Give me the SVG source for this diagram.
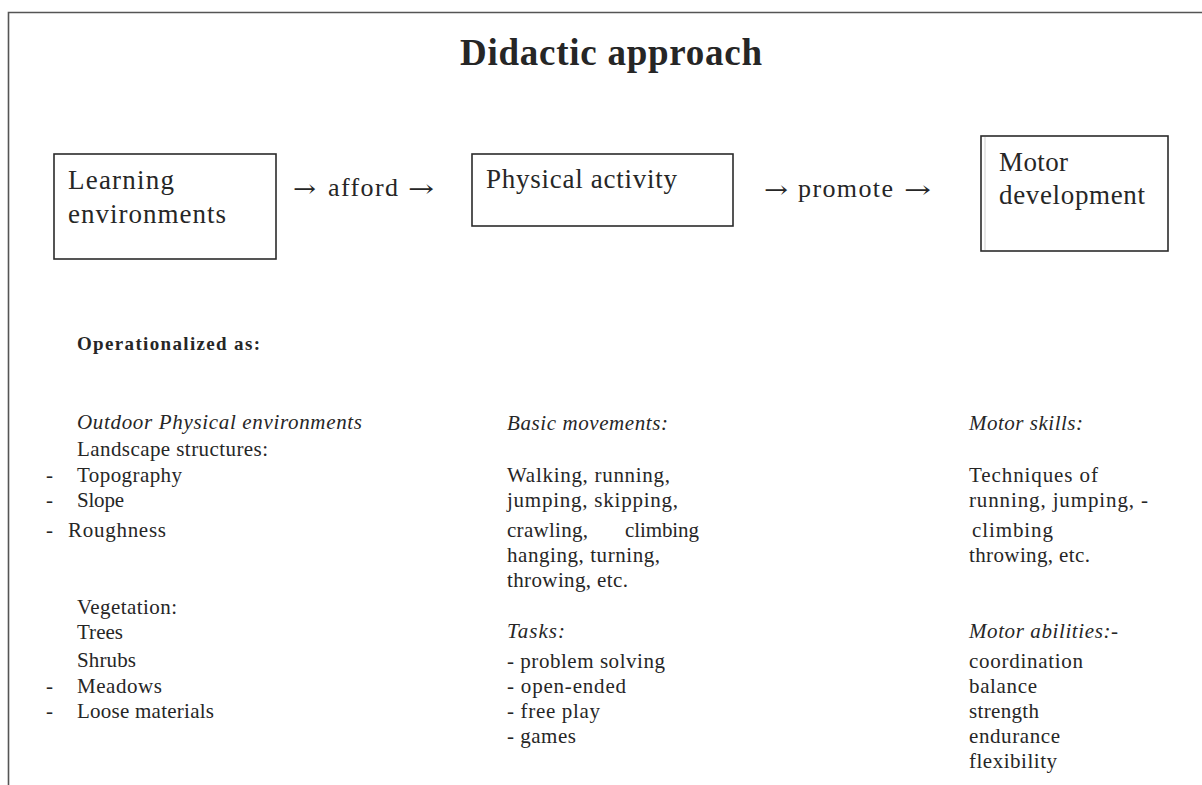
<svg xmlns="http://www.w3.org/2000/svg" width="1202" height="785" viewBox="0 0 1202 785">
<style>
text{font-family:"Liberation Serif","Times New Roman",serif;fill:#262626}
.title{font-size:37px;font-weight:bold}
.box{fill:#fff;stroke:#2b2b2b;stroke-width:1.6}
.nl{font-size:27px}
.conn{font-size:26px}
.arr{font-family:"DejaVu Serif","DejaVu Sans",serif;font-size:24px}
.op{font-size:19px;font-weight:bold}
.b{font-size:21px}
.i{font-size:21px;font-style:italic}
</style>
<rect x="0" y="0" width="1202" height="785" fill="#fff"/>
<path d="M8.5,785 V12.5 H1202" fill="none" stroke="#555" stroke-width="1.6"/>
<text class="title" x="460" y="65" textLength="302">Didactic approach</text>

<g id="node-learning">
<rect class="box" x="54" y="154" width="222" height="105"/>
<text class="nl" x="68" y="189" textLength="106">Learning</text>
<text class="nl" x="68" y="223" textLength="158">environments</text>
</g>
<g id="node-physical">
<rect class="box" x="472" y="154" width="261" height="72"/>
<text class="nl" x="486" y="188" textLength="191">Physical activity</text>
</g>
<g id="node-motor">
<rect class="box" x="981" y="136" width="187" height="115"/>
<line x1="985" y1="137" x2="985" y2="250" stroke="#d0d0d0" stroke-width="1"/>
<text class="nl" x="999" y="171" textLength="69">Motor</text>
<text class="nl" x="999" y="204" textLength="146">development</text>
</g>

<g id="connectors">
<text class="arr" x="293" y="197" textLength="23" lengthAdjust="spacingAndGlyphs">→</text>
<text class="conn" x="328" y="196" textLength="70">afford</text>
<text class="arr" x="408" y="197" textLength="26" lengthAdjust="spacingAndGlyphs">→</text>
<text class="arr" x="764" y="198" textLength="24" lengthAdjust="spacingAndGlyphs">→</text>
<text class="conn" x="798" y="197" textLength="95">promote</text>
<text class="arr" x="904" y="198" textLength="27" lengthAdjust="spacingAndGlyphs">→</text>
</g>

<g id="operationalized">
<text class="op" x="77" y="350" textLength="183">Operationalized as:</text>
</g>

<g id="col-environments">
<text class="i" x="77" y="429" textLength="285">Outdoor Physical environments</text>
<text class="b" x="77" y="456" textLength="191">Landscape structures:</text>
<text class="b" x="46" y="482">-</text>
<text class="b" x="77" y="482" textLength="105">Topography</text>
<text class="b" x="46" y="507">-</text>
<text class="b" x="77" y="507" textLength="47">Slope</text>
<text class="b" x="46" y="537">-</text>
<text class="b" x="68" y="537" textLength="98">Roughness</text>
<text class="b" x="77" y="614" textLength="100">Vegetation:</text>
<text class="b" x="77" y="639" textLength="46">Trees</text>
<text class="b" x="77" y="667" textLength="59">Shrubs</text>
<text class="b" x="46" y="693">-</text>
<text class="b" x="77" y="693" textLength="85">Meadows</text>
<text class="b" x="46" y="718">-</text>
<text class="b" x="77" y="718" textLength="137">Loose materials</text>
</g>

<g id="col-movements">
<text class="i" x="507" y="430" textLength="161">Basic movements:</text>
<text class="b" x="507" y="482" textLength="163">Walking, running,</text>
<text class="b" x="507" y="507" textLength="171">jumping, skipping,</text>
<text class="b" x="507" y="537" textLength="81">crawling,</text>
<text class="b" x="625" y="537" textLength="74">climbing</text>
<text class="b" x="507" y="562" textLength="153">hanging, turning,</text>
<text class="b" x="507" y="587" textLength="121">throwing, etc.</text>
<text class="i" x="507" y="638" textLength="58">Tasks:</text>
<text class="b" x="507" y="668" textLength="158">- problem solving</text>
<text class="b" x="507" y="693" textLength="119">- open-ended</text>
<text class="b" x="507" y="718" textLength="93">- free play</text>
<text class="b" x="507" y="743" textLength="69">- games</text>
</g>

<g id="col-motor">
<text class="i" x="969" y="430" textLength="114">Motor skills:</text>
<text class="b" x="969" y="482" textLength="129">Techniques of</text>
<text class="b" x="969" y="507" textLength="179">running, jumping, -</text>
<text class="b" x="972" y="537" textLength="81">climbing</text>
<text class="b" x="969" y="562" textLength="121">throwing, etc.</text>
<text class="i" x="969" y="638" textLength="149">Motor abilities:-</text>
<text class="b" x="969" y="668" textLength="114">coordination</text>
<text class="b" x="969" y="693" textLength="68">balance</text>
<text class="b" x="969" y="718" textLength="70">strength</text>
<text class="b" x="969" y="743" textLength="91">endurance</text>
<text class="b" x="969" y="768" textLength="88">flexibility</text>
</g>
</svg>
